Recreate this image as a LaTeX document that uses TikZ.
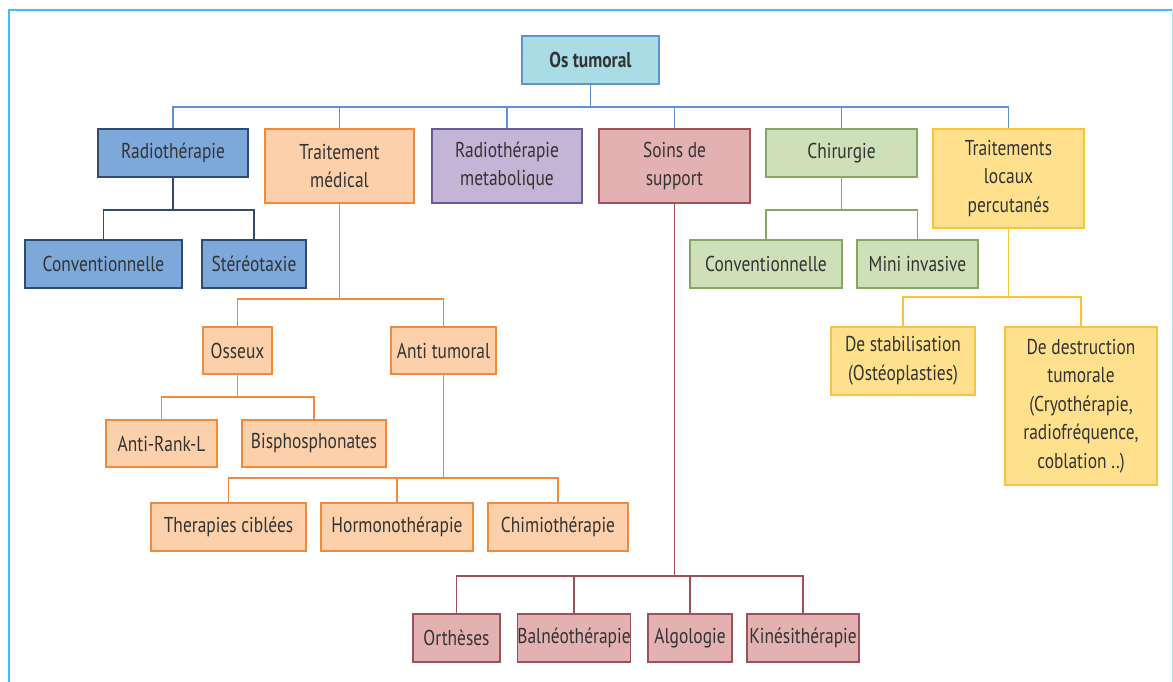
\documentclass[tikz,border=0pt]{standalone}
\usepackage{fontspec}
\setmainfont{PT Sans}[FakeStretch=0.81]
\definecolor{txt}{HTML}{333333}
\definecolor{frameC}{HTML}{3FC1F0}
\definecolor{rootF}{HTML}{A9DCE5}
\definecolor{rootD}{HTML}{5E93CF}
\definecolor{radF}{HTML}{7DA9DA}
\definecolor{radD}{HTML}{2E4B72}
\definecolor{medF}{HTML}{FCD0AA}
\definecolor{medD}{HTML}{F28A3C}
\definecolor{metF}{HTML}{C2B5D6}
\definecolor{metD}{HTML}{6B5B95}
\definecolor{soiF}{HTML}{E3B1B1}
\definecolor{soiD}{HTML}{A0505A}
\definecolor{chiF}{HTML}{CDE0B8}
\definecolor{chiD}{HTML}{86A666}
\definecolor{locF}{HTML}{FFE08C}
\definecolor{locD}{HTML}{F8C43C}
\tikzset{
  bx/.style={rectangle, line width=1.6pt, inner sep=0pt, align=center, text=txt,
    font=\fontsize{21.5}{28.5}\selectfont},
  rootbox/.style={bx, fill=rootF, draw=rootD, font=\fontsize{21.5}{28.5}\selectfont\bfseries},
  radbox/.style={bx, fill=radF, draw=radD},
  medbox/.style={bx, fill=medF, draw=medD},
  metbox/.style={bx, fill=metF, draw=metD},
  soibox/.style={bx, fill=soiF, draw=soiD},
  chibox/.style={bx, fill=chiF, draw=chiD},
  locbox/.style={bx, fill=locF, draw=locD},
  conn/.style={line width=1.4pt},
}
\newcommand{\bn}[6]{\node[#1, minimum width=#4pt, minimum height=#5pt] (#2) at (#3) {#6};}
\begin{document}
\begin{tikzpicture}[x=1pt,y=-1pt]
\useasboundingbox (0,0) rectangle (1173,682);
% frame
\draw[frameC, line width=2pt] (8.5,682) -- (8.5,10.5) -- (1172,10.5);
\draw[frameC!40, line width=1pt] (1172,10.5) -- (1172,682);

% level 0/1
\bn{rootbox}{root}{590.5,60}{137}{48}{Os tumoral}
\bn{radbox}{rad}{173,153}{150}{48}{Radiothérapie}
\bn{medbox}{med}{339.5,166}{149}{74}{Traitement\\médical}
\bn{metbox}{met}{507,166}{150}{74}{Radiothérapie\\metabolique}
\bn{soibox}{soi}{674.5,166}{151}{74}{Soins de\\support}
\bn{chibox}{chi}{841.5,153}{151}{48}{Chirurgie}
\bn{locbox}{loc}{1008.5,178.5}{151}{99}{Traitements\\locaux\\percutanés}

% radiotherapie children
\bn{radbox}{rconv}{103.5,264}{157}{48}{Conventionnelle}
\bn{radbox}{rster}{254,264}{104}{48}{Stéréotaxie}

% traitement medical
\bn{medbox}{oss}{237.5,350.5}{69}{47}{Osseux}
\bn{medbox}{ant}{443.5,350.5}{105}{47}{Anti tumoral}
\bn{medbox}{rank}{161.5,443.5}{111}{47}{Anti-Rank-L}
\bn{medbox}{bis}{314,443.5}{144}{47}{Bisphosphonates}
\bn{medbox}{the}{228.5,527}{155}{48}{Therapies ciblées}
\bn{medbox}{hor}{397,527}{152}{48}{Hormonothérapie}
\bn{medbox}{chm}{558,527}{140}{48}{Chimiothérapie}

% soins de support
\bn{soibox}{ort}{456.5,638}{87}{48}{Orthèses}
\bn{soibox}{bal}{574,638}{112}{48}{Balnéothérapie}
\bn{soibox}{alg}{690,638}{84}{48}{Algologie}
\bn{soibox}{kin}{803,638}{112}{48}{Kinésithérapie}

% chirurgie
\bn{chibox}{cconv}{766,264}{152}{48}{Conventionnelle}
\bn{chibox}{mini}{917.5,264}{121}{48}{Mini invasive}

% traitements locaux
\bn{locbox}{stab}{903,361}{144}{68}{De stabilisation\\(Ostéoplasties)}
\bn{locbox}{des}{1081,406}{152}{158}{De destruction\\tumorale\\(Cryothérapie,\\radiofréquence,\\coblation ..)}

% buses
\coordinate (b0) at (0,107);
\coordinate (b1) at (0,210);
\coordinate (b2) at (0,299);
\coordinate (b3) at (0,397);
\coordinate (b4) at (0,478);
\coordinate (b5) at (0,576);
\coordinate (b6) at (0,297);

\foreach \c in {rad,med,met,soi,chi,loc}
  \draw[conn, rootD] (root.south) |- (\c.north |- b0) -- (\c.north);
\foreach \c in {rconv,rster}
  \draw[conn, radD] (rad.south) |- (\c.north |- b1) -- (\c.north);
\foreach \c in {oss,ant}
  \draw[conn, medD] (med.south) |- (\c.north |- b2) -- (\c.north);
\foreach \c in {rank,bis}
  \draw[conn, medD] (oss.south) |- (\c.north |- b3) -- (\c.north);
\foreach \c in {the,hor,chm}
  \draw[conn, medD] (ant.south) |- (\c.north |- b4) -- (\c.north);
\foreach \c in {ort,bal,alg,kin}
  \draw[conn, soiD] (soi.south) |- (\c.north |- b5) -- (\c.north);
\foreach \c in {cconv,mini}
  \draw[conn, chiD] (chi.south) |- (\c.north |- b1) -- (\c.north);
\foreach \c in {stab,des}
  \draw[conn, locD] (loc.south) |- (\c.north |- b6) -- (\c.north);
\end{tikzpicture}
\end{document}
